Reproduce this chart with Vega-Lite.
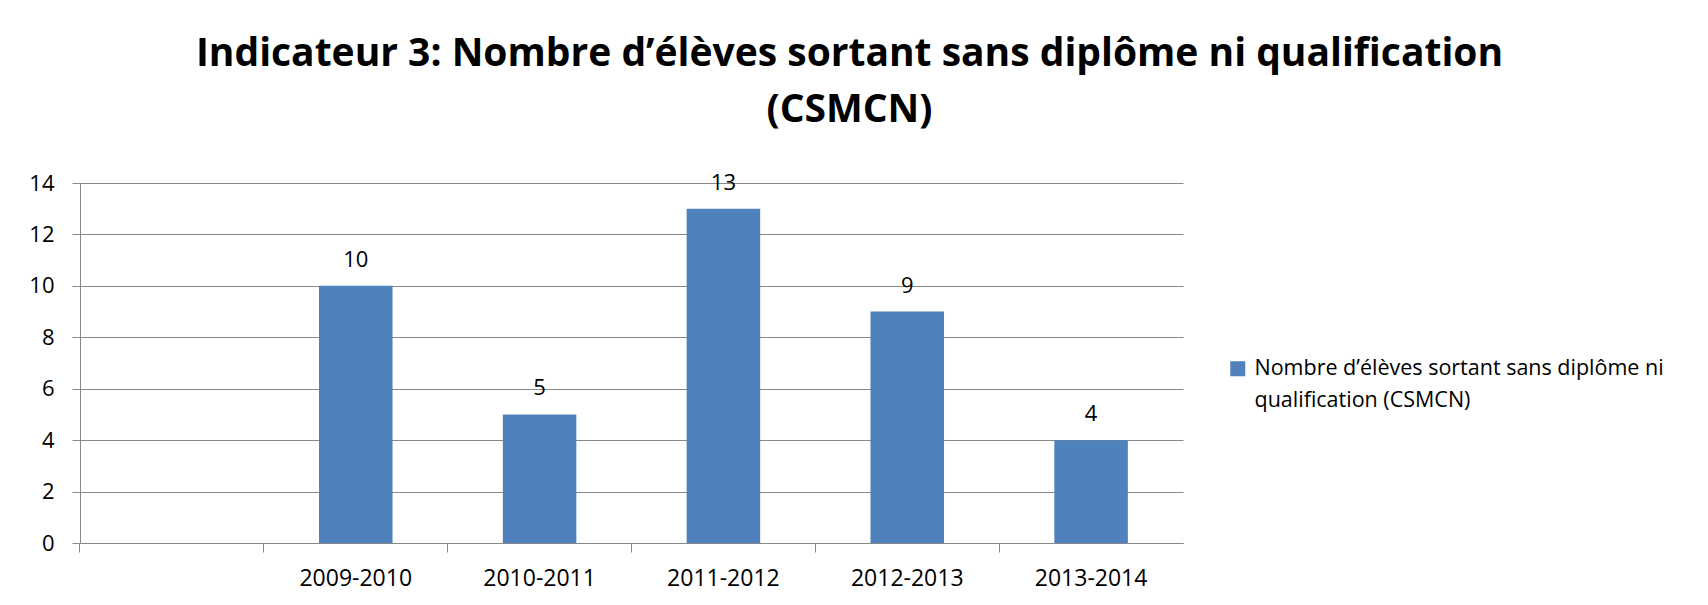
{
  "$schema": "https://vega.github.io/schema/vega-lite/v6.json",
  "autosize": "none",
  "width": 1103,
  "height": 360,
  "padding": {"left": 80, "top": 183, "right": 525, "bottom": 62},
  "background": "white",
  "title": {
    "text": ["Indicateur 3: Nombre d’élèves sortant sans diplôme ni qualification", "(CSMCN)"],
    "font": "Open Sans",
    "fontSize": 39,
    "fontWeight": "bold",
    "color": "#000000",
    "anchor": "middle",
    "dx": 218,
    "lineHeight": 56,
    "offset": 42
  },
  "data": {
    "values": [
      {"annee": "2009-2010", "valeur": 10, "serie": "Nombre d’élèves sortant sans diplôme ni qualification (CSMCN)"},
      {"annee": "2010-2011", "valeur": 5, "serie": "Nombre d’élèves sortant sans diplôme ni qualification (CSMCN)"},
      {"annee": "2011-2012", "valeur": 13, "serie": "Nombre d’élèves sortant sans diplôme ni qualification (CSMCN)"},
      {"annee": "2012-2013", "valeur": 9, "serie": "Nombre d’élèves sortant sans diplôme ni qualification (CSMCN)"},
      {"annee": "2013-2014", "valeur": 4, "serie": "Nombre d’élèves sortant sans diplôme ni qualification (CSMCN)"}
    ]
  },
  "encoding": {
    "x": {
      "field": "annee",
      "type": "nominal",
      "sort": null,
      "scale": {
        "domain": [" ", "2009-2010", "2010-2011", "2011-2012", "2012-2013", "2013-2014"],
        "paddingInner": 0.6,
        "paddingOuter": 0.3
      },
      "axis": {
        "title": null,
        "labelAngle": 0,
        "bandPosition": -0.75,
        "tickSize": 9,
        "tickColor": "#888888",
        "domainColor": "#888888",
        "labelPadding": 15,
        "labelFontSize": 23,
        "labelFont": "Open Sans",
        "labelColor": "#000000",
        "grid": false
      }
    },
    "y": {
      "field": "valeur",
      "type": "quantitative",
      "scale": {"domain": [0, 14], "nice": false},
      "axis": {
        "title": null,
        "values": [0, 2, 4, 6, 8, 10, 12, 14],
        "tickSize": 8,
        "tickColor": "#888888",
        "domainColor": "#888888",
        "gridColor": "#888888",
        "gridWidth": 1,
        "labelPadding": 18,
        "labelFontSize": 22,
        "labelFont": "Open Sans",
        "labelColor": "#000000"
      }
    }
  },
  "layer": [
    {
      "mark": {"type": "bar"},
      "encoding": {
        "color": {
          "field": "serie",
          "type": "nominal",
          "scale": {"range": ["#4F81BD"]},
          "legend": {
            "title": null,
            "orient": "none",
            "legendX": 1147,
            "legendY": 175,
            "padding": 0,
            "symbolType": "square",
            "symbolSize": 225,
            "symbolStrokeWidth": 0,
            "labelFont": "Open Sans",
            "labelFontSize": 21.5,
            "labelColor": "#000000",
            "labelLimit": 500,
            "labelOffset": 6,
            "labelBaseline": "middle",
            "labelExpr": "['Nombre d’élèves sortant sans diplôme ni', 'qualification (CSMCN)']"
          }
        }
      }
    },
    {
      "mark": {"type": "text", "baseline": "middle", "dy": -26, "font": "Open Sans", "fontSize": 22, "color": "#000000"},
      "encoding": {"text": {"field": "valeur", "type": "quantitative"}}
    }
  ],
  "config": {
    "view": {"stroke": null},
    "style": {"guide-label": {"lineHeight": 32}}
  }
}
